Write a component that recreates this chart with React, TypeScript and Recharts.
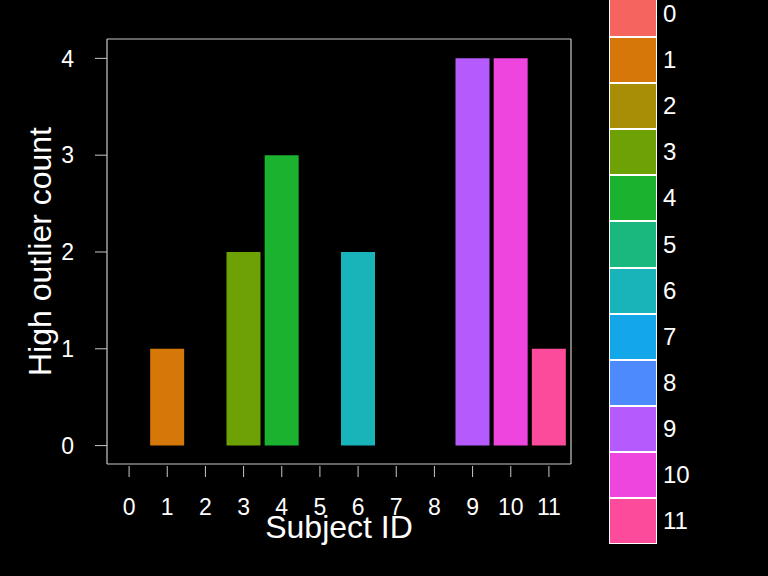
import { BarChart, Bar, XAxis, YAxis, Cell, Legend, Label, CartesianGrid } from 'recharts';

const subjects = ['0', '1', '2', '3', '4', '5', '6', '7', '8', '9', '10', '11'];
const highOutliers = [0, 1, 0, 2, 3, 0, 2, 0, 0, 4, 4, 1];
const subjectColors = [
  '#F5645E', '#D67709', '#A88D06', '#6DA105', '#1AB22E', '#1AB77E',
  '#19B4B9', '#13A7E9', '#4C8AFE', '#B55BFD', '#EE45DE', '#FD4B9B',
];
const yTicks = [0, 1, 2, 3, 4];

const data = subjects.map((s, i) => ({ subject: s, count: highOutliers[i] }));

const FONT = '"Liberation Sans", Arial, sans-serif';
const AXIS_GREY = '#c8c8c8';

function XTick(props: any) {
  const { x, y, payload } = props;
  return (
    <g>
      <line x1={x} x2={x} y1={y + 2} y2={y + 13} stroke={AXIS_GREY} strokeWidth={1} />
      <text x={x} y={y + 51} textAnchor="middle" fill="#fff" fontSize={23} fontFamily={FONT}>
        {payload.value}
      </text>
    </g>
  );
}

function SubjectLegend() {
  return (
    <div style={{ fontFamily: FONT }}>
      {subjects.map((s, i) => (
        <div key={s} style={{ display: 'flex', alignItems: 'center', height: 46.1 }}>
          <div
            style={{
              width: 48,
              height: 46.1,
              background: subjectColors[i],
              border: '1px solid #fff',
              boxSizing: 'border-box',
            }}
          />
          <span style={{ color: '#fff', fontSize: 24, marginLeft: 6 }}>{s}</span>
        </div>
      ))}
    </div>
  );
}

export default function App() {
  return (
    <div style={{ position: 'absolute', left: 0, top: 0, width: 768, height: 576, background: '#000' }}>
      <BarChart
        width={768}
        height={576}
        data={data}
        margin={{ top: 39, right: 197, left: 0, bottom: 0 }}
        barSize={34}
      >
        <CartesianGrid
          stroke={AXIS_GREY}
          strokeWidth={1.2}
          verticalCoordinatesGenerator={({ offset }: any) => [offset.left, offset.left + offset.width]}
          horizontalCoordinatesGenerator={({ offset }: any) => [offset.top, offset.top + offset.height]}
        />
        <XAxis
          dataKey="subject"
          height={112}
          padding={{ left: 3, right: 3 }}
          axisLine={false}
          tickLine={false}
          tickSize={0}
          tickMargin={0}
          tick={<XTick />}
          interval={0}
        >
          <Label
            content={(p: any) => {
              const vb = p.viewBox;
              return (
                <text
                  x={vb.x + vb.width / 2}
                  y={vb.y + 74}
                  textAnchor="middle"
                  fill="#fff"
                  fontSize={32}
                  fontFamily={FONT}
                >
                  Subject ID
                </text>
              );
            }}
          />
        </XAxis>
        <YAxis
          width={107}
          domain={[-0.19, 4.2]}
          ticks={yTicks}
          axisLine={false}
          tickSize={12}
          tickMargin={21}
          tickLine={{ stroke: AXIS_GREY }}
          tick={{ fill: '#fff', fontSize: 23, fontFamily: FONT }}
        >
          <Label
            content={(p: any) => {
              const vb = p.viewBox;
              const cx = vb.x + 40;
              const cy = vb.y + vb.height / 2;
              return (
                <text
                  x={cx}
                  y={cy}
                  transform={`rotate(-90, ${cx}, ${cy})`}
                  textAnchor="middle"
                  dominantBaseline="central"
                  fill="#fff"
                  fontSize={32}
                  fontFamily={FONT}
                >
                  High outlier count
                </text>
              );
            }}
          />
        </YAxis>
        <Bar dataKey="count" isAnimationActive={false}>
          {data.map((d, i) => (
            <Cell key={d.subject} fill={subjectColors[i]} />
          ))}
        </Bar>
        <Legend
          layout="horizontal"
          align="center"
          verticalAlign="middle"
          wrapperStyle={{ left: 609, top: -9, width: 120 }}
          content={() => <SubjectLegend />}
        />
      </BarChart>
    </div>
  );
}
